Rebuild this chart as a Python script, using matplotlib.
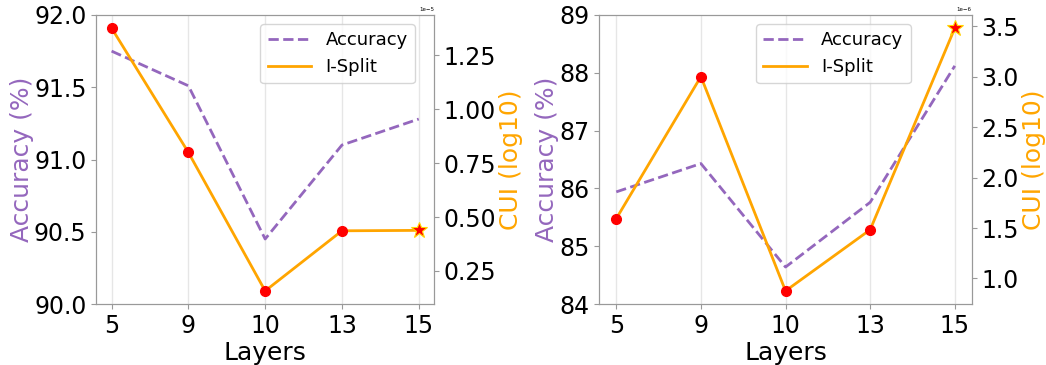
import numpy as np
import matplotlib
matplotlib.use('Agg')
import matplotlib.pyplot as plt

layers = ['5', '9', '10', '13', '15']

# left panel
acc_left = [91.75, 91.51, 90.45, 91.10, 91.28]
cui_left = [1.377e-5, 0.800e-5, 0.157e-5, 0.436e-5, 0.438e-5]

# right panel
acc_right = [85.94, 86.43, 84.64, 85.76, 88.12]
cui_right = [1.593e-6, 3.000e-6, 0.877e-6, 1.483e-6, 3.480e-6]

ACC_COLOR = '#9467bd'
CUI_COLOR = 'orange'
SPINE = '#999999'


def DrawPanel(fig, rect, acc, cui, ylim, yticks, yfmt, legend_anchor):
    x = np.arange(len(layers))
    ax1 = fig.add_axes(rect)
    ax2 = ax1.twinx()

    l1, = ax1.plot(x, acc, '--', color=ACC_COLOR, linewidth=2, label='Accuracy')
    l2, = ax2.plot(x, cui, '-', color=CUI_COLOR, linewidth=2, label='I-Split')
    ax2.plot(x[:-1], cui[:-1], 'o', color='red', markersize=7, zorder=5)
    ax2.plot(x[-1:], cui[-1:], '*', color='red', markeredgecolor='gold',
             markeredgewidth=0.8, markersize=12, zorder=5)

    ax1.set_ylim(*ylim)
    ax1.set_yticks(yticks)
    ax1.set_yticklabels([yfmt.format(v) for v in yticks])
    ax1.set_xticks(x)
    ax1.set_xticklabels(layers)
    ax1.grid(axis='x', color='#e6e6e6', linewidth=1)
    ax1.set_axisbelow(True)

    ax1.set_xlabel('Layers', fontsize=18, labelpad=2)
    ax1.set_ylabel('Accuracy (%)', fontsize=18, color=ACC_COLOR, labelpad=0)
    ax2.set_ylabel('CUI (log10)', fontsize=18, color=CUI_COLOR, labelpad=2)

    for ax in (ax1, ax2):
        ax.tick_params(labelsize=17, color=SPINE)
        for sp in ax.spines.values():
            sp.set_color(SPINE)
    ax2.yaxis.get_offset_text().set_fontsize(4)

    ax2.legend([l1, l2], ['Accuracy', 'I-Split'], loc='upper right',
               bbox_to_anchor=legend_anchor, fontsize=13,
               handlelength=2.4)
    return ax1, ax2


fig = plt.figure(figsize=(10.46, 3.65), dpi=100)

DrawPanel(fig, [0.092, 0.167, 0.323, 0.792], acc_left, cui_left,
          (90.0, 92.0), [90.0, 90.5, 91.0, 91.5, 92.0], '{:.1f}', (0.97, 1.0))
DrawPanel(fig, [0.573, 0.167, 0.356, 0.792], acc_right, cui_right,
          (84, 89), [84, 85, 86, 87, 88, 89], '{:.0f}', (0.86, 1.0))

fig.savefig('out.png', dpi=100)
